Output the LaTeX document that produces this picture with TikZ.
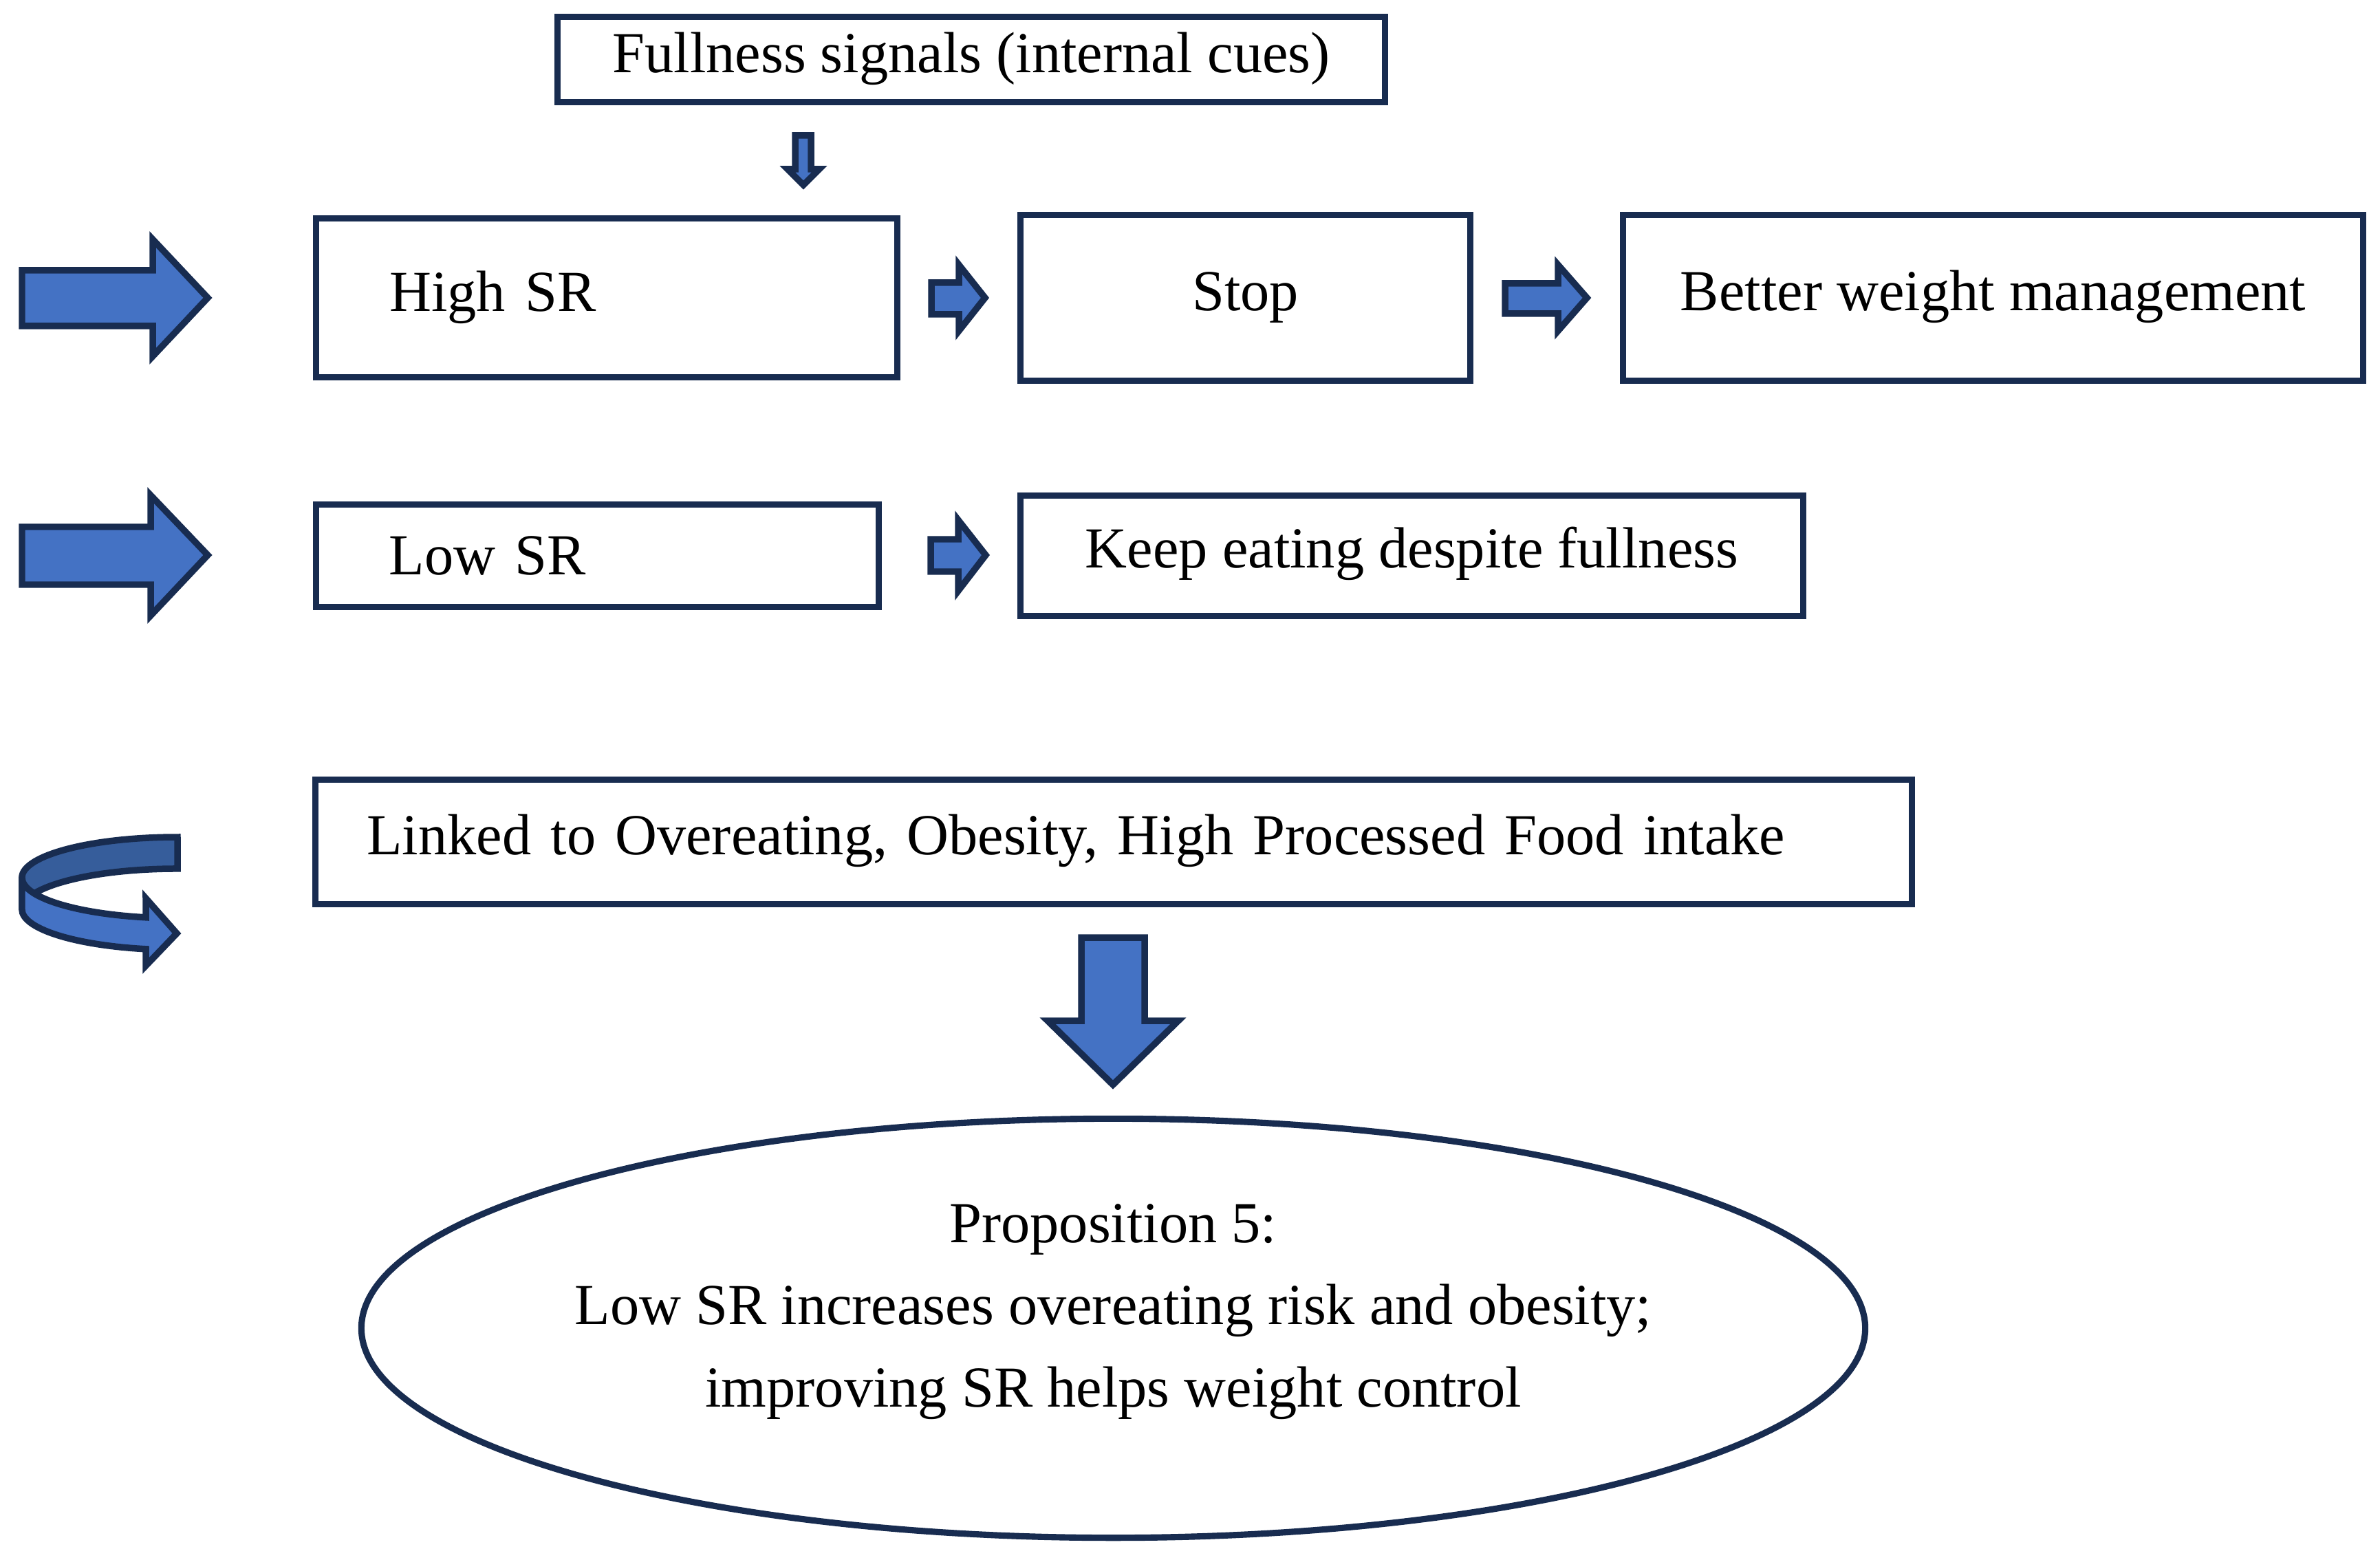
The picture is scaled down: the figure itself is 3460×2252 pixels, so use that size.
\documentclass[tikz,border=0pt]{standalone}
\usepackage{fontspec}
\setmainfont{Liberation Serif}
\usetikzlibrary{shapes.geometric}
\definecolor{navy}{RGB}{24,44,80}
\definecolor{ablue}{RGB}{68,114,196}
\definecolor{dblue}{RGB}{54,93,155}
\newcommand{\figfont}{\fontsize{24}{33.9}\selectfont}
\begin{document}
\begin{tikzpicture}[x=0.01cm,y=-0.01cm,
  box/.style={rectangle, draw=navy, line width=2.6pt, fill=white, inner ysep=0pt, text height=16pt, font=\figfont},
  blk/.style={draw=navy, fill=ablue, line width=2.7pt, line join=miter, miter limit=10},
  oval/.style={ellipse, draw=navy, line width=2.6pt, inner sep=0pt},
  txt/.style={font=\figfont, inner sep=0pt}]
\useasboundingbox (0,0) rectangle (3460,2252);

% boxes
\node[box, minimum width=12.03cm, minimum height=1.24cm, text depth=5.47pt] (full) at (1412,86.5) {Fullness signals (internal cues)};
\node[box, minimum width=8.445cm, minimum height=2.31cm, text width=6.305cm, inner xsep=1.07cm, align=left, text depth=5.19pt] (high) at (881.75,433) {High SR};
\node[box, minimum width=6.54cm, minimum height=2.41cm, text depth=5.76pt] (stop) at (1810.5,433) {Stop};
\node[box, minimum width=10.76cm, minimum height=2.41cm, text depth=5.76pt] (better) at (2897.5,433) {Better weight management};
\node[box, minimum width=8.18cm, minimum height=1.49cm, text width=6.05cm, inner xsep=1.065cm, align=left, text depth=0.64pt] (low) at (868.5,808) {Low SR};
\node[box, minimum width=11.38cm, minimum height=1.75cm, text depth=6.33pt] (keep) at (2052.5,808) {Keep eating despite fullness};
\node[box, minimum width=23.19cm, minimum height=1.81cm, text width=21.7cm, inner xsep=0.745cm, align=left, text depth=5.76pt] (linked) at (1619,1224) {Linked to Overeating, Obesity, High Processed Food intake};

% proposition ellipse
\node[oval, minimum width=21.85cm, minimum height=6.09cm] (prop) at (1618.5,1931) {};
\node[txt, align=center, text height=70.9pt, text depth=6pt] (proptext) at (1618.5,1931) {Proposition 5:\\Low SR increases overeating risk and obesity;\\improving SR helps weight control};

% big left arrows
\draw[blk] (32,393) -- (222,393) -- (222,348) -- (302,433) -- (222,518) -- (222,474) -- (32,474) -- cycle;
\draw[blk] (32,766) -- (219,766) -- (219,720) -- (302,807) -- (219,895) -- (219,850) -- (32,850) -- cycle;

% small down arrow from fullness signals
\draw[blk] (1156,197) -- (1179,197) -- (1179,246) -- (1191,246) -- (1168,269) -- (1145,246) -- (1156,246) -- cycle;

% small right arrows
\draw[blk] (1354,411) -- (1394,411) -- (1394,385) -- (1432,433) -- (1394,481) -- (1394,457) -- (1354,457) -- cycle;
\draw[blk] (2188,412) -- (2265,412) -- (2265,385) -- (2307,433) -- (2265,481) -- (2265,456) -- (2188,456) -- cycle;
\draw[blk] (1353,784) -- (1393,784) -- (1393,756) -- (1433,807) -- (1393,859) -- (1393,831) -- (1353,831) -- cycle;

% big down arrow to proposition
\draw[blk] (1572,1363) -- (1664,1363) -- (1664,1484) -- (1713,1484) -- (1618,1577) -- (1523,1484) -- (1572,1484) -- cycle;

% curved (circular) arrow
\draw[blk, fill=dblue] (258,1217) arc[start angle=90, end angle=180, x radius=2.26cm, y radius=0.59cm] -- (32,1322) arc[start angle=180, end angle=90, x radius=2.26cm, y radius=0.59cm] -- cycle;
\draw[blk] (32,1276) arc[start angle=180, end angle=258.26, x radius=2.26cm, y radius=0.59cm] -- (212,1306) -- (257,1357) -- (212,1404) -- (212,1379.8) arc[start angle=258.26, end angle=180, x radius=2.26cm, y radius=0.59cm] -- cycle;
\end{tikzpicture}
\end{document}
